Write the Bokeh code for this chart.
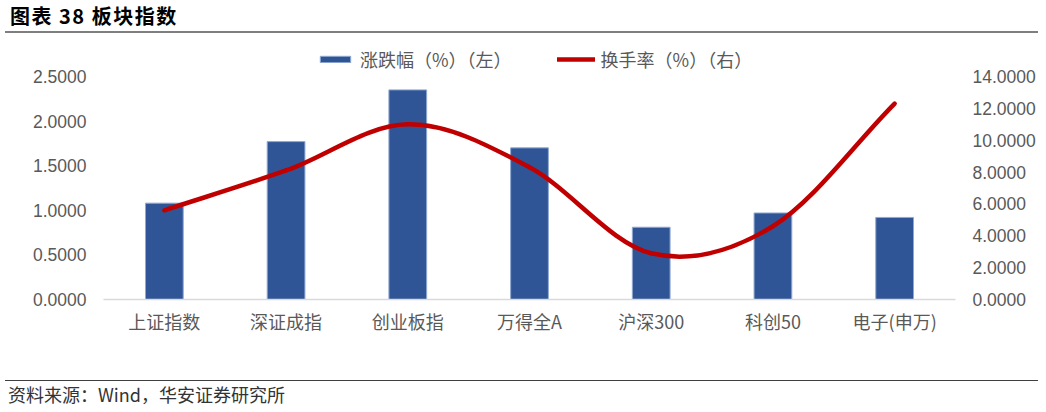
from bokeh.plotting import figure
from bokeh.models import (Range1d, LinearAxis, FixedTicker, NumeralTickFormatter,
                          Legend, LegendItem, Div)
from bokeh.layouts import column
from bokeh.embed import file_html
from bokeh.resources import INLINE

# data
categories = ["上证指数", "深证成指", "创业板指", "万得全A", "沪深300", "科创50", "电子(申万)"]
change_pct = [1.08, 1.77, 2.35, 1.70, 0.81, 0.97, 0.92]      # 涨跌幅（%）左轴
turnover = [5.6, 8.1, 11.0, 8.3, 2.9, 4.6, 12.3]              # 换手率（%）右轴
left_ticks = [0.0, 0.5, 1.0, 1.5, 2.0, 2.5]
right_ticks = [0, 2, 4, 6, 8, 10, 12, 14]

BLUE = "#2F5597"
RED = "#C00000"
GREY = "#595959"
CJK = "Noto Sans CJK SC"
W = 1038

# header: title + rule
header = Div(text='<div style="box-sizing:border-box;width:1033px;height:33px;margin-left:5px;'
                  'padding-left:5px;line-height:31px;border-bottom:2px solid #7F7F7F;'
                  'font-family:\'Noto Sans CJK SC\';font-size:20px;font-weight:bold;'
                  'letter-spacing:1.5px;color:#000;white-space:nowrap">图表 38 板块指数</div>',
             width=W, height=34, margin=0)

# main chart; plot area extends up so the legend sits inside it
H = 334
frame_top, tick_top, frame_bottom = 6, 42, 265     # pixels inside this figure
stretch = (frame_bottom - frame_top) / (frame_bottom - tick_top)

xs = [i + 0.5 for i in range(len(categories))]

p = figure(width=W, height=H, output_backend="svg", toolbar_location=None,
           x_range=Range1d(0, len(categories)), y_range=Range1d(0, left_ticks[-1] * stretch),
           min_border_left=103, min_border_right=83, min_border_top=frame_top,
           min_border_bottom=H - frame_bottom, outline_line_color=None, margin=0)
p.xgrid.visible = False
p.ygrid.visible = False
p.extra_y_ranges = {"right": Range1d(0, right_ticks[-1] * stretch)}

bars = p.vbar(x=xs, top=change_pct, width=0.31, fill_color=BLUE,
              line_color="#8FA8D0", line_width=1)

# smoothed line (Catmull-Rom style bezier segments, like Excel's smoothing)
n = len(turnover)
tang = []
for i in range(n):
    a = turnover[max(i - 1, 0)]
    b = turnover[min(i + 1, n - 1)]
    tang.append((b - a) / 2 if 0 < i < n - 1 else (b - a))
x0 = xs[:-1]
x1 = xs[1:]
y0 = turnover[:-1]
y1 = turnover[1:]
cx0 = [x + 1 / 3 for x in x0]
cx1 = [x - 1 / 3 for x in x1]
cy0 = [turnover[i] + tang[i] / 3 for i in range(n - 1)]
cy1 = [turnover[i + 1] - tang[i + 1] / 3 for i in range(n - 1)]
curve = p.bezier(x0=x0, y0=y0, x1=x1, y1=y1, cx0=cx0, cy0=cy0, cx1=cx1, cy1=cy1,
                 line_color=RED, line_width=4.5, line_cap="round", y_range_name="right")

# axes
p.xaxis.ticker = FixedTicker(ticks=xs)
p.xaxis.major_label_overrides = {x: c for x, c in zip(xs, categories)}
p.xaxis.axis_line_color = "#D9D9D9"
p.xaxis.axis_line_width = 1.5
p.xaxis.major_tick_line_color = None
p.xaxis.minor_tick_line_color = None
p.xaxis.major_tick_out = 0
p.xaxis.major_label_standoff = 8
p.xaxis.major_label_text_font = CJK
p.xaxis.major_label_text_font_size = "18px"
p.xaxis.major_label_text_color = GREY

p.yaxis.ticker = FixedTicker(ticks=left_ticks)
p.yaxis.formatter = NumeralTickFormatter(format="0.0000")

right = LinearAxis(y_range_name="right", ticker=FixedTicker(ticks=right_ticks),
                   formatter=NumeralTickFormatter(format="0.0000"))
p.add_layout(right, "right")

for ax in (p.yaxis[0], right):
    ax.axis_line_color = None
    ax.major_tick_line_color = None
    ax.minor_tick_line_color = None
    ax.major_tick_out = 0
    ax.major_label_standoff = 17
    ax.major_label_text_font = "Liberation Sans"
    ax.major_label_text_font_size = "17.5px"
    ax.major_label_text_color = GREY

legend = Legend(items=[LegendItem(label="涨跌幅（%）（左）", renderers=[bars]),
                       LegendItem(label="换手率（%）（右）", renderers=[curve])],
                location=(213, frame_bottom - 38), orientation="horizontal",
                glyph_width=38, glyph_height=8, label_height=20, label_standoff=6,
                spacing=45, padding=0, margin=0, border_line_color=None,
                background_fill_alpha=0, label_text_font=CJK,
                label_text_font_size="18px", label_text_color=GREY)
p.add_layout(legend, "center")

# footer: rule + source note
footer = Div(text='<div style="box-sizing:border-box;width:1033px;height:24px;margin-left:5px;'
                  'margin-top:12px;padding-left:3px;padding-top:4px;line-height:18px;'
                  'border-top:1.5px solid #404040;font-family:\'Noto Sans CJK SC\';'
                  'font-size:18px;color:#333;white-space:nowrap">资料来源：Wind，华安证券研究所</div>',
             width=W, height=36, margin=0)

page = column(header, p, footer, spacing=0)

open("out.html", "w").write(file_html(page, INLINE))
